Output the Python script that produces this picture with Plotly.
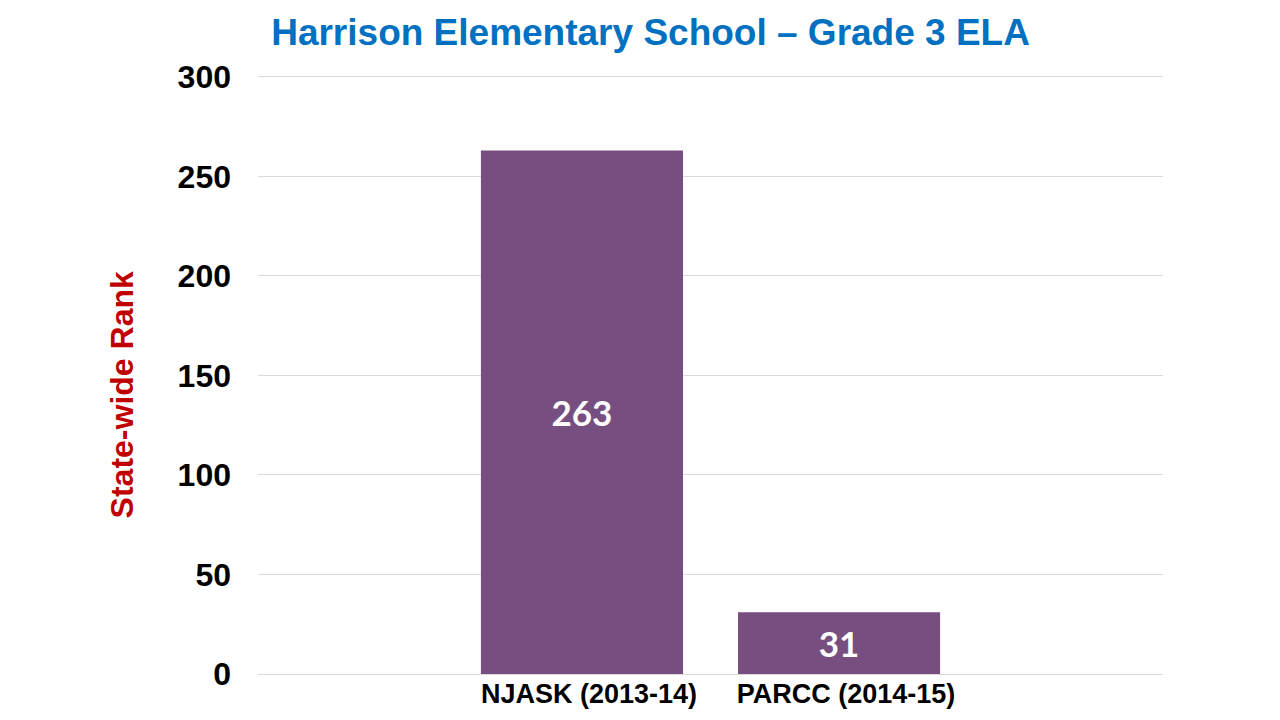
import plotly.graph_objects as go

categories = ["NJASK (2013-14)", "PARCC (2014-15)"]
ranks = [263, 31]
y_ticks = [0, 50, 100, 150, 200, 250, 300]

title_text = "Harrison Elementary School – Grade 3 ELA"
y_title = "State-wide Rank"

fig = go.Figure()
fig.add_trace(go.Bar(
    x=categories,
    y=ranks,
    marker=dict(color="#764F80", line=dict(width=0)),
    width=0.786,
    text=[str(v) for v in ranks],
    textposition="inside",
    insidetextanchor="middle",
    textfont=dict(family="Lato", size=35, color="white", weight="bold"),
    hoverinfo="skip",
))

fig.update_layout(
    width=1280, height=720,
    paper_bgcolor="white", plot_bgcolor="white",
    margin=dict(l=250, r=125, t=65, b=54, autoexpand=False),
    showlegend=False,
    title=dict(
        text="<b>" + title_text + "</b>",
        font=dict(family="Liberation Sans, Arial", size=37, color="#0070C0"),
        x=0.502, xanchor="center", y=0.966, yanchor="middle",
    ),
    xaxis=dict(
        type="category",
        range=[-1.26, 2.26],
        showgrid=False,
        showline=True, linecolor="#D9D9D9", linewidth=1,
        ticks="",
        automargin=False,
        ticklabelshift=7,
        ticklabelstandoff=-4,
        tickfont=dict(family="Liberation Sans, Arial", size=27, color="black", weight="bold"),
    ),
    yaxis=dict(
        range=[0, 302],
        tickvals=y_ticks,
        showgrid=True, gridcolor="#D9D9D9", gridwidth=1,
        zeroline=False,
        showline=False,
        ticks="",
        automargin=False,
        ticklabelstandoff=26,
        tickfont=dict(family="Liberation Sans, Arial", size=32, color="black", weight="bold"),
    ),
    annotations=[dict(
        text="<b>" + y_title + "</b>",
        xref="paper", yref="paper",
        x=-0.150, y=0.464,
        xanchor="center", yanchor="middle",
        textangle=-90,
        showarrow=False,
        font=dict(family="Liberation Sans, Arial", size=32, color="#C00000"),
    )],
)

fig.write_html("out.html")
